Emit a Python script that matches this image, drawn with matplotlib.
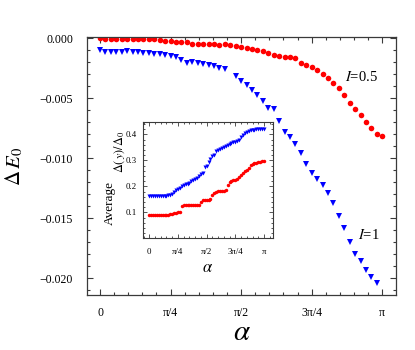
import numpy as np
import matplotlib
matplotlib.use("Agg")
import matplotlib.pyplot as plt
from matplotlib.ticker import MultipleLocator

plt.rcParams['font.family'] = ['Liberation Serif', 'DejaVu Serif']
plt.rcParams['mathtext.fontset'] = 'stix'

PI = np.pi

# ---- main panel data: Delta E_0 vs alpha ----
alpha_main = np.linspace(0, PI, 53)
dE_half = [0.0, -0.00005, -0.00005, -0.00006, -0.00006, -0.00006, -0.00006, -0.00008,
           -0.00008, -0.00008, -0.00008, -0.00014, -0.00022, -0.00022, -0.00028, -0.00030,
           -0.00033, -0.00047, -0.00050, -0.00047, -0.00050, -0.00047, -0.00053, -0.00050,
           -0.00058, -0.00064, -0.00072, -0.00078, -0.00087, -0.00100, -0.00108, -0.00122,
           -0.00139, -0.00147, -0.00153, -0.00153, -0.00167, -0.00206, -0.00220, -0.00242,
           -0.00267, -0.00300, -0.00333, -0.00370, -0.00414, -0.00475, -0.00542, -0.00589,
           -0.00642, -0.00697, -0.00750, -0.00800, -0.00815]
dE_one = [-0.00100, -0.00114, -0.00114, -0.00114, -0.00118, -0.00106, -0.00112, -0.00118,
          -0.00122, -0.00122, -0.00128, -0.00133, -0.00139, -0.00147, -0.00158, -0.00181,
          -0.00206, -0.00197, -0.00206, -0.00214, -0.00225, -0.00233, -0.00245, -0.00258,
          np.nan, -0.00310, -0.00356, -0.00389, -0.00431, -0.00475, -0.00520, -0.00583,
          -0.00586, -0.00689, -0.00778, -0.00822, -0.00884, -0.00958, -0.01050, -0.01120,
          -0.01175, -0.01220, -0.01291, -0.01372, -0.01478, -0.01583, -0.01700, -0.01795,
          -0.01853, -0.01928, -0.01989, -0.02040]

# ---- inset data: average Delta(y)/Delta_0 vs alpha ----
alpha_in = np.linspace(0, PI, 61)
avg_half = [0.088, 0.088, 0.088, 0.088, 0.088, 0.088, 0.088, 0.088, 0.088, 0.090,
            0.091, 0.092, 0.093, 0.097, 0.099, 0.100, 0.101, 0.126, 0.127, 0.128,
            0.128, 0.128, 0.128, 0.128, 0.128, 0.129, 0.130, 0.140, 0.146, 0.147,
            0.147, 0.148, 0.150, 0.165, 0.176, 0.180, 0.181, 0.181, 0.182, 0.182,
            0.186, 0.205, 0.218, 0.222, 0.223, 0.225, 0.228, 0.235, 0.245, 0.252,
            0.260, 0.262, 0.272, 0.281, 0.285, 0.288, 0.290, 0.293, 0.295, 0.296, 0.297]
avg_one = [0.164, 0.164, 0.164, 0.164, 0.164, 0.164, 0.164, 0.164, 0.164, 0.164,
           0.165, 0.165, 0.172, 0.180, 0.185, 0.190, 0.195, 0.200, 0.205, 0.208,
           0.210, 0.213, 0.222, 0.226, 0.230, 0.233, 0.240, 0.246, 0.250, 0.276,
           0.280, 0.295, 0.305, 0.315, 0.322, 0.335, 0.340, 0.344, 0.347, 0.350,
           0.354, 0.357, 0.361, 0.366, 0.370, 0.372, 0.375, 0.380, 0.390, 0.398,
           0.405, 0.410, 0.413, 0.415, 0.417, 0.418, 0.419, 0.420, 0.421, 0.421, 0.422]

xtick_vals = [0, PI / 4, PI / 2, 3 * PI / 4, PI]
xtick_labels = ['0', 'π/4', 'π/2', '3π/4', 'π']
ytick_main = [0.0, -0.005, -0.010, -0.015, -0.020]
ytick_in = [0.1, 0.2, 0.3, 0.4]

W, H = 415, 350
fig = plt.figure(figsize=(W / 100, H / 100), dpi=100)

frame_col = '#3a3a3a'

# main axes
ax = fig.add_axes([87 / W, 1 - 295 / H, (396 - 87) / W, (295 - 37) / H])
ax.plot(alpha_main, dE_half, 'o', color='#ff0000', ms=4.0, mew=0)
ax.plot(alpha_main[:len(dE_one)], dE_one, 'v', color='#0000ff', ms=4.4, mew=0)
ax.set_xlim(-0.1447, 3.294)
ax.set_ylim(-0.02139, 0.00011)
ax.set_xticks(xtick_vals)
ax.set_xticklabels(xtick_labels)
ax.set_yticks(ytick_main)
ax.set_yticklabels([f"{v:.3f}".replace('-', '\u2212') if v != 0 else '0.000' for v in ytick_main])
ax.xaxis.set_minor_locator(MultipleLocator(PI / 20))
ax.yaxis.set_minor_locator(MultipleLocator(0.001))
ax.tick_params(which='both', direction='in', top=True, right=True, colors=frame_col,
               labelcolor='black', width=0.8)
ax.tick_params(which='major', length=4.5)
ax.tick_params(which='minor', length=2.3)
ax.tick_params(axis='x', which='major', pad=9, labelsize=8.5)
ax.tick_params(axis='y', which='major', pad=10, labelsize=8.5)
for s in ax.spines.values():
    s.set_color(frame_col)
    s.set_linewidth(0.9)
ax.set_xlabel(r'$\alpha$', fontsize=21, labelpad=0)
ax.set_ylabel(r'$\Delta\,E_0$', fontsize=15, labelpad=10)
ax.text(2.727, -0.0032, r'$I$=0.5', fontsize=10.5, va='center', ha='left')
ax.text(2.874, -0.01639, r'$I$=1', fontsize=10.5, va='center', ha='left')

# inset axes
axi = fig.add_axes([143.3 / W, 1 - 238.3 / H, (272.7 - 143.3) / W, (238.3 - 121.7) / H])
axi.plot(alpha_in, avg_half, 'o', color='#ff0000', ms=2.5, mew=0)
axi.plot(alpha_in, avg_one, 'v', color='#0000ff', ms=2.9, mew=0)
axi.set_xlim(-0.164, 3.380)
axi.set_ylim(0.0, 0.4485)
axi.set_xticks(xtick_vals)
axi.set_xticklabels(xtick_labels)
axi.set_yticks(ytick_in)
axi.set_yticklabels([f"{v:.1f}" for v in ytick_in])
axi.xaxis.set_minor_locator(MultipleLocator(PI / 20))
axi.yaxis.set_minor_locator(MultipleLocator(0.02))
axi.tick_params(which='both', direction='in', top=True, right=True, colors=frame_col,
                labelcolor='black', width=0.6, labelsize=6.3)
axi.tick_params(which='major', length=3)
axi.tick_params(which='minor', length=1.5)
axi.tick_params(axis='x', which='major', pad=7)
axi.tick_params(axis='y', which='major', pad=4.5)
for s in axi.spines.values():
    s.set_color(frame_col)
    s.set_linewidth(0.8)
axi.set_xlabel(r'$\alpha$', fontsize=12, labelpad=3)
fig.text(110 / W, 1 - 203 / H, 'Average', rotation=90, fontsize=9.5, ha='center', va='center')
fig.text(120 / W, 1 - 152 / H, r'$\Delta(\,y)/\Delta_0$', rotation=90, fontsize=8.8,
         ha='center', va='center')

fig.savefig('out.png', dpi=100)
